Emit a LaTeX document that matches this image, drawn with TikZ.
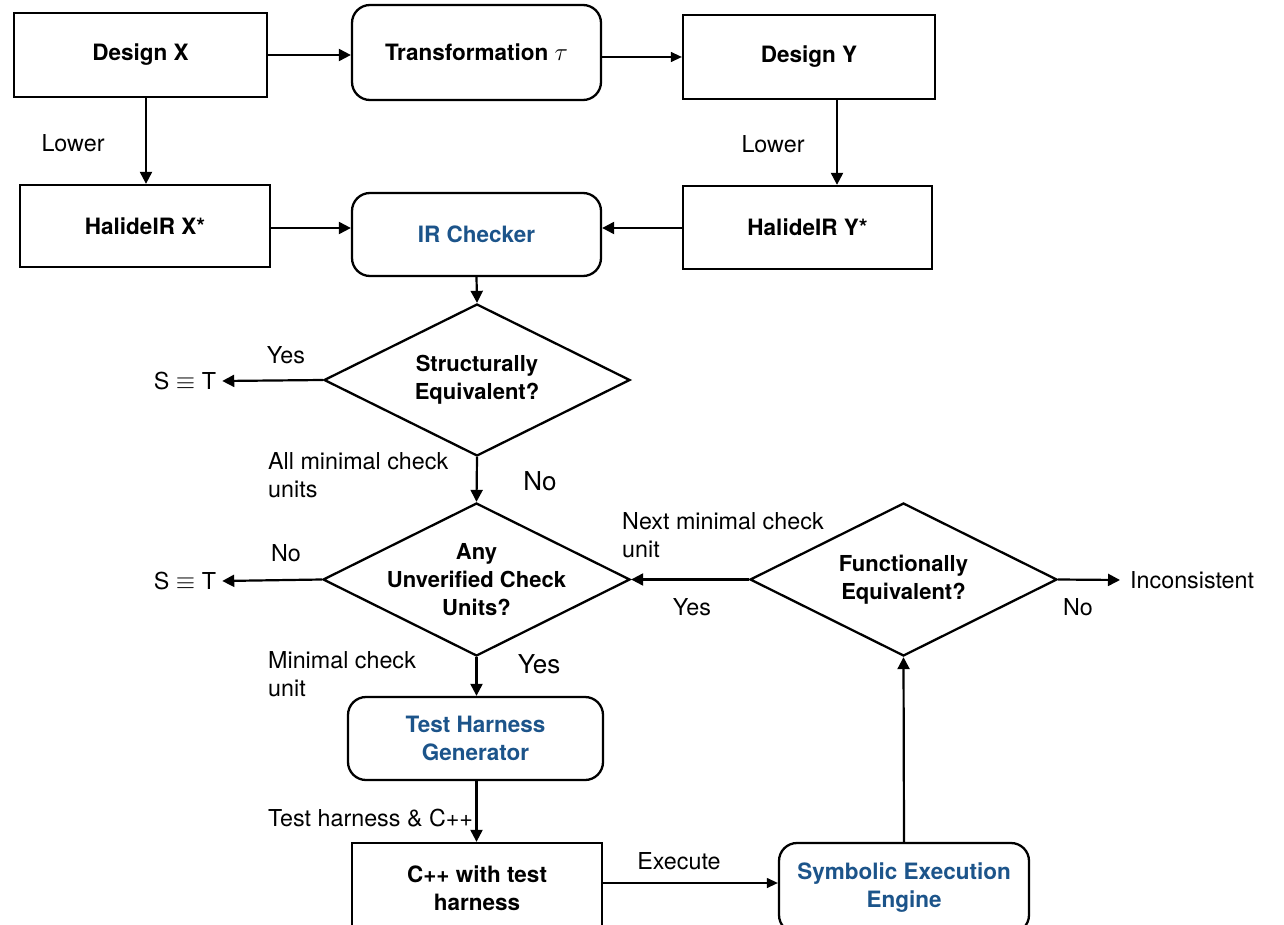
\documentclass[tikz,border=0pt]{standalone}
\usepackage{fontspec}
\setmainfont{TeX Gyre Heros}
\usetikzlibrary{shapes.geometric,arrows.meta,calc}
\definecolor{blu}{RGB}{28,84,138}
\begin{document}
\begin{tikzpicture}[x=1pt,y=-1pt,
  bx/.style={draw, line width=2.3pt, inner sep=0pt, align=center, font=\fontsize{22.5}{28}\selectfont\bfseries},
  rbx/.style={bx, rounded corners=18pt},
  dia/.style={draw, diamond, line width=2.3pt, minimum width=306pt, minimum height=152pt, inner sep=0pt},
  dtxt/.style={inner sep=0pt, align=center, font=\fontsize{22}{28}\selectfont\bfseries},
  lbl/.style={inner sep=0pt, align=left, font=\fontsize{23.3}{28}\selectfont},
  big/.style={inner sep=0pt, font=\fontsize{26}{30}\selectfont},
  term/.style={inner sep=6pt, font=\fontsize{23.3}{28}\selectfont},
  arr/.style={-{Triangle[length=12pt,width=12pt]}, line width=2.2pt},
  tarr/.style={-{Triangle[length=11pt,width=10pt]}, line width=1.3pt}]
\path[use as bounding box] (0,0) rectangle (1284,925);
\clip (0,0) rectangle (1284,925);

% boxes
\node[bx, minimum width=253pt, minimum height=84pt] (dx) at (140.5,55) {Design X};
\node[rbx, minimum width=249pt, minimum height=95pt] (tr) at (476.5,52.5) {Transformation {\fontsize{25}{28}\selectfont$\tau$}};
\node[bx, minimum width=252pt, minimum height=84pt] (dy) at (809,57) {Design Y};
\node[bx, minimum width=250pt, minimum height=82pt] (hx) at (145,226) {HalideIR X*};
\node[rbx, minimum width=249pt, minimum height=83pt, text=blu] (ir) at (476.5,234.5) {IR Checker};
\node[bx, minimum width=249pt, minimum height=83pt] (hy) at (807.5,227.5) {HalideIR Y*};

% diamonds
\node[dia] (d1) at (477,380) {};
\node[dtxt] at (d1) {Structurally\\Equivalent?};
\node[dia, minimum width=307pt, minimum height=153pt] (d2) at (476.5,579.5) {};
\node[dtxt] at (d2) {Any\\Unverified Check\\Units?};
\node[dia, minimum width=307pt, minimum height=153pt] (d3) at (903.5,579.5) {};
\node[dtxt] at (d3) {Functionally\\Equivalent?};

% lower boxes
\node[rbx, minimum width=255pt, minimum height=83pt, text=blu] (th) at (475.5,738.5) {Test Harness\\Generator};
\node[bx, minimum width=250pt, minimum height=90pt] (cpp) at (477,888) {C++ with test\\harness};
\node[rbx, minimum width=250pt, minimum height=90pt, text=blu] (se) at (904,888) {Symbolic Execution\\Engine};

% terminals
\node[term] (s1) at (185,381) {S $\equiv$ T};
\node[term] (s2) at (185,581) {S $\equiv$ T};
\node[term, anchor=west, inner sep=10pt] (inc) at (1120,580) {Inconsistent};

% connectors
\draw[arr] (dx.east |- 0,55) -- (tr.west |- 0,55);
\draw[tarr] (tr.east |- 0,57) -- (dy.west |- 0,57);
\draw[arr] ($(dx.south)+(5.5,0)$) -- ($(hx.north)+(1,0)$);
\draw[arr] ($(dy.south)+(28,0)$) -- ($(hy.north)+(29.5,0)$);
\draw[arr] (hx.east |- 0,228) -- (ir.west |- 0,228);
\draw[arr] (hy.west |- 0,228) -- (ir.east |- 0,228);
\draw[arr] (ir.south) -- (d1.north);
\draw[arr] (d1.west) -- (s1.east);
\draw[arr] (d1.south) -- (d2.north);
\draw[arr] (d2.west) -- (s2.east);
\draw[arr] (d2.south) -- (th.north -| d2.south);
\draw[arr] (th.south -| d2.south) -- (cpp.north -| d2.south);
\draw[tarr] (cpp.east |- 0,883) -- (se.west |- 0,883);
\draw[arr] (se.north) -- (d3.south);
\draw[arr] (d3.west) -- (d2.east);
\draw[arr] (d3.east) -- (inc.west);

% labels
\node[lbl] at (73,143) {Lower};
\node[lbl] at (773,144) {Lower};
\node[lbl] at (286,355) {Yes};
\node[lbl, anchor=west] at (268,475) {All minimal check\\units};
\node[big] at (540,481) {No};
\node[lbl] at (286,553) {No};
\node[lbl, anchor=west] at (268,674) {Minimal check\\unit};
\node[big] at (539,664) {Yes};
\node[lbl, anchor=west] at (268,818) {Test harness \& C++};
\node[lbl] at (679,861) {Execute};
\node[lbl, anchor=west] at (622,535) {Next minimal check\\unit};
\node[lbl] at (692,607) {Yes};
\node[lbl] at (1078,607) {No};
\end{tikzpicture}
\end{document}
